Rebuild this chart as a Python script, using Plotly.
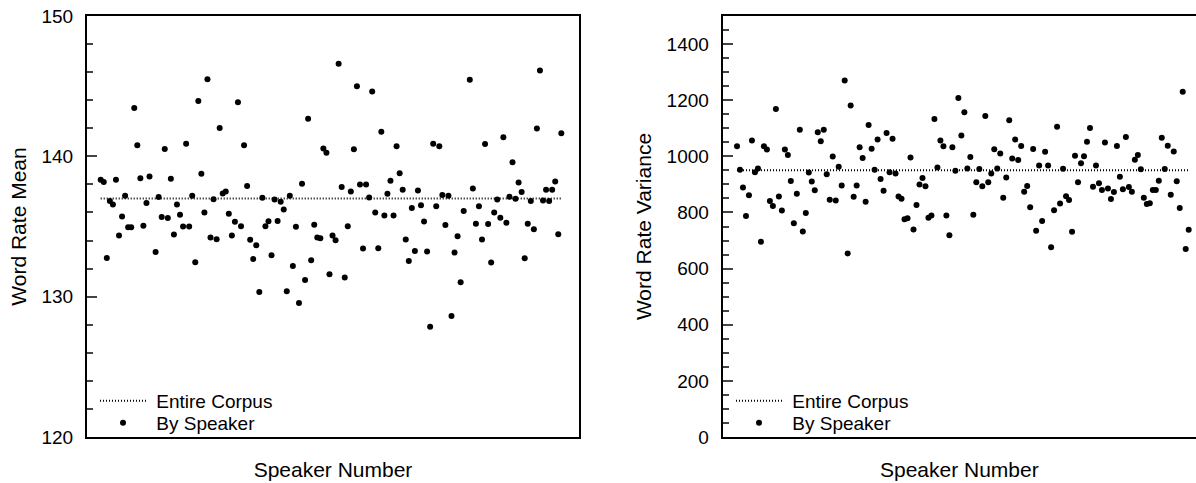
import plotly.graph_objects as go

# ---- data ----
speakers = list(range(1, 153))

word_rate_mean = (
    [138.33, 138.17, 132.76, 136.81, 136.57, 138.33, 134.36, 135.71, 137.19, 134.95,
     134.95, 143.45, 140.79, 138.43, 135.05, 136.67, 138.57]
    + [None]
    + [133.19, 137.10, 135.67, 140.52, 135.60, 138.40, 134.43, 136.57, 135.83, 135.0,
       140.90, 135.0, 137.19, 132.45, 143.95, 138.76, 136.0, 145.5, 134.21, 136.95,
       134.10, 142.02, 137.36, 137.5, 135.90, 134.36, 135.33, 143.86, 135.02, 140.79,
       137.88, 134.05, 132.69, 133.67, 130.33, 137.05, 135.02, 135.38, 132.95, 136.93,
       135.40, 136.76, 136.21, 130.38, 137.19, 132.19, 134.98, 129.55, 138.05, 131.19,
       142.67, 132.6, 135.12, 134.21, 134.17, 140.55]
    + [140.26, 131.60, 134.36, 134.02, 146.6, 137.81, 131.36, 135.02, 137.5, 140.5,
       145.0, 138.0, 133.43, 138.0, 137.07, 144.62, 136.0, 133.45, 141.76, 135.79,
       137.33, 138.26, 135.79, 140.71, 138.79, 137.62, 134.07, 132.55, 136.31, 133.26,
       137.57, 136.52, 135.36, 133.21, 127.86, 140.90, 136.45, 140.71, 137.24, 135.10,
       137.19, 128.62, 133.14, 134.31, 131.02, 136.1]
    + [None]
    + [145.45, 137.71, 135.19, 136.45, 134.07, 140.88, 135.17, 132.43, 136.0, 136.93,
       135.62, 141.36, 135.26, 137.12, 139.57, 136.98, 138.14, 137.45, 132.74, 135.19,
       136.81, 134.81, 141.98, 146.12, 136.86, 137.62, 136.81, 137.62, 138.21, 134.45,
       141.64]
)

word_rate_variance = [
    1036, 952, 889, 787, 861, 1056, 943, 957, 696, 1036,
    1024, 841, 823, 1169, 857, 807, 1024, 1005, 912, 762,
    867, 1095, 732, 798, 942, 910, 879, 1086, 1054, 1095,
    936, 845, 999, 843, 963, 896, 1270, 654, 1181, 856,
    896, 1032, 994, 838, 1112, 1027, 952, 1060, 919, 877,
    1083, 943, 1063, 939, 857, 849, 776, 779, 996, 739,
    827, 900, 923, 893, 781, 789, 1133, 960, 1056, 1036,
    789, 719, 1032, 949, 1208, 1074, 1157, 957, 998, 792,
    908, 955, 893, 1144, 908, 939, 1025, 957, 1010, 852,
    925, 1129, 992, 1060, 987, 1037, 874, 894, 819, 1026,
    735, 967, 770, 1016, 967, 676, 808, 1105, 832, 956,
    858, 844, 731, 1002, 908, 975, 1000, 1052, 1101, 892,
    967, 904, 880, 1049, 885, 848, 873, 1037, 927, 883,
    1069, 891, 874, 988, 1005, 954, 852, 830, 833, 880,
    880, 913, 1066, 955, 1038, 863, 1017, 911, 816, 1230,
    670, 738,
]

corpus_mean = 137.0
corpus_variance = 950.0

series_names = ["\u00a0Entire Corpus", "\u00a0By Speaker"]

# ---- figure ----
FONT = "Liberation Sans, Arial, Helvetica, sans-serif"
W, H = 1196, 483

fig = go.Figure()

dot_line = dict(color="black", width=2, dash="1px,2px")
marker = dict(color="black", size=6)

fig.add_trace(go.Scatter(x=[speakers[0], speakers[-1]], y=[corpus_mean, corpus_mean],
                         mode="lines", line=dot_line, name=series_names[0], showlegend=True,
                         xaxis="x", yaxis="y", legend="legend"))
fig.add_trace(go.Scatter(x=speakers, y=word_rate_mean, mode="markers",
                         marker=marker, name=series_names[1], showlegend=True,
                         xaxis="x", yaxis="y", legend="legend2"))
fig.add_trace(go.Scatter(x=[speakers[0], speakers[-1]], y=[corpus_variance, corpus_variance],
                         mode="lines", line=dot_line, name=series_names[0], showlegend=True,
                         xaxis="x2", yaxis="y2", legend="legend3"))
fig.add_trace(go.Scatter(x=speakers, y=word_rate_variance, mode="markers",
                         marker=marker, name=series_names[1], showlegend=True,
                         xaxis="x2", yaxis="y2", legend="legend4"))

ydom = [(H - 437) / H, (H - 16) / H]
left_dom = [87 / W, 579 / W]
right_dom = [722.7 / W, 1.0]

xcommon = dict(showline=True, linewidth=2, linecolor="black", mirror=True,
               showgrid=False, zeroline=False, ticks="", showticklabels=False,
               title=dict(text="Speaker Number", font=dict(family=FONT, size=21, color="black"),
                          standoff=24))
ycommon = dict(showline=True, linewidth=2, linecolor="black",
               showgrid=False, zeroline=False, ticks="inside", ticklen=10, tickwidth=1.5,
               tickcolor="#444", ticklabelstandoff=8, tickmode="linear",
               tickfont=dict(family=FONT, size=19, color="black"))

legend_common = dict(font=dict(family=FONT, size=19, color="black"),
                     bgcolor="rgba(0,0,0,0)", borderwidth=0, itemwidth=46,
                     xanchor="left", yanchor="middle", visible=True)

fig.update_layout(
    width=W, height=H,
    showlegend=True,
    margin=dict(l=0, r=0, t=0, b=0, autoexpand=False),
    paper_bgcolor="white", plot_bgcolor="white",
    font=dict(family=FONT, color="black"),
    xaxis=dict(domain=left_dom, range=[-3.49, 157.8], anchor="y", **xcommon),
    yaxis=dict(domain=ydom, range=[120, 150], anchor="x", tick0=120, dtick=10,
               mirror=True,
               minor=dict(dtick=2, ticks="inside", ticklen=6, tickwidth=1.5, tickcolor="#444"),
               title=dict(text="Word Rate Mean", font=dict(family=FONT, size=21, color="black"),
                          standoff=9),
               **ycommon),
    xaxis2=dict(domain=right_dom, range=[-3.78, 154.44], anchor="y2", **xcommon),
    yaxis2=dict(domain=ydom, range=[0, 1500], anchor="x2", tick0=0, dtick=200,
                mirror=False,
                minor=dict(dtick=50, ticks="inside", ticklen=6, tickwidth=1.5, tickcolor="#444"),
                title=dict(text="Word Rate Variance", font=dict(family=FONT, size=21, color="black"),
                           standoff=9),
                **ycommon),
    legend=dict(x=95 / W, y=(H - 401) / H, **legend_common),
    legend2=dict(x=95 / W, y=(H - 423) / H, **legend_common),
    legend3=dict(x=731 / W, y=(H - 401) / H, **legend_common),
    legend4=dict(x=731 / W, y=(H - 423) / H, **legend_common),
)

fig.write_html("out.html", config={"displayModeBar": False},
               post_script="document.body.style.margin='0';document.body.style.overflow='hidden';")
